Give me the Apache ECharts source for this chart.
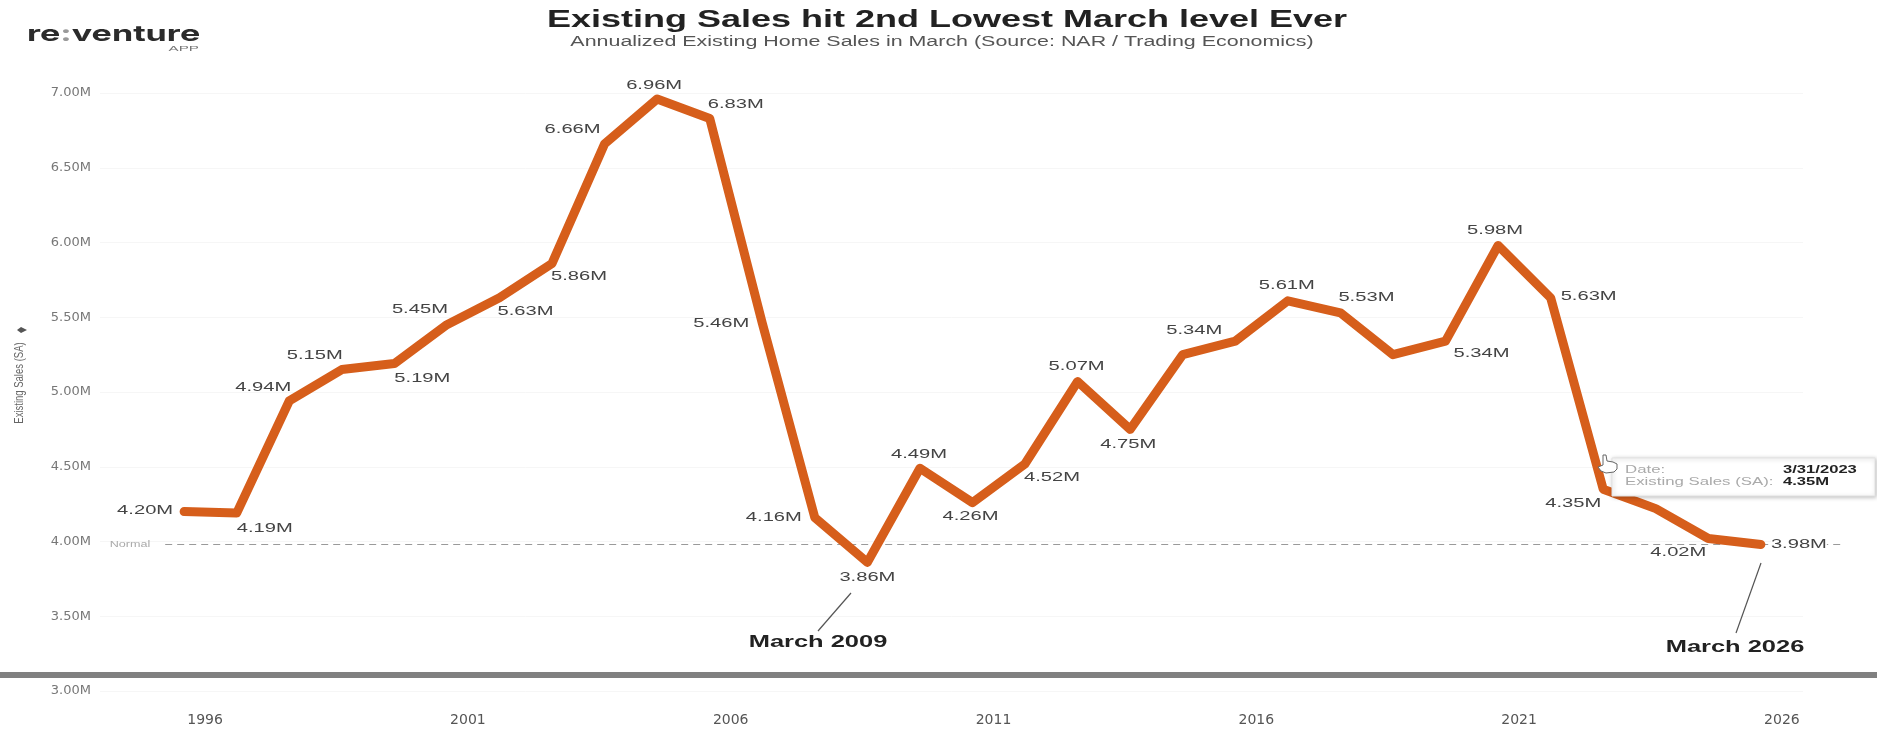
<!DOCTYPE html>
<html>
<head>
<meta charset="utf-8">
<title>Existing Home Sales in March</title>
<style>
  html, body { margin: 0; padding: 0; background: #fff; }
  #chart { width: 1877px; height: 729px; }
</style>
<script src="https://cdn.jsdelivr.net/npm/echarts@6/dist/echarts.min.js"></script>
</head>
<body>
<div id="chart"></div>
<script>
// Annualized existing home sales each March, in millions
const years = [1996, 1997, 1998, 1999, 2000, 2001, 2002, 2003, 2004, 2005, 2006,
  2007, 2008, 2009, 2010, 2011, 2012, 2013, 2014, 2015, 2016,
  2017, 2018, 2019, 2020, 2021, 2022, 2023, 2024, 2025, 2026];
const sales = [4.20, 4.19, 4.94, 5.15, 5.19, 5.45, 5.63, 5.86, 6.66, 6.96, 6.83,
  5.46, 4.16, 3.86, 4.49, 4.26, 4.52, 5.07, 4.75, 5.25, 5.34,
  5.61, 5.53, 5.25, 5.34, 5.98, 5.63, 4.35, 4.22, 4.02, 3.98];
const yearTicks = [1996, 2001, 2006, 2011, 2016, 2021, 2026];
const salesTicks = [3, 3.5, 4, 4.5, 5, 5.5, 6, 6.5, 7];
const normalLevel = 3.98;

// Years whose point carries no value label
const unlabeledYears = [2015, 2019];

// Label offset from its point, in pixels, per year
const labelOffsets = {
  1996: [-39, -1], 1997: [28, 15], 1998: [-26, -14], 1999: [-27, -14], 2000: [28, 15],
  2001: [-27, -15], 2002: [26, 14], 2003: [27, 13], 2004: [-32, -14], 2005: [-3, -14],
  2006: [26, -14], 2007: [-41, 0], 2008: [-41, 0], 2009: [0, 15], 2010: [-1, -14],
  2011: [-2, 14], 2012: [27, 14], 2013: [-1, -15], 2014: [-2, 15], 2016: [-41, -11],
  2017: [-1, -15], 2018: [26, -15], 2020: [36, 12], 2021: [-3, -15], 2022: [38, -1],
  2023: [-30, 14], 2024: [26, -16], 2025: [-30, 14], 2026: [38, 0]
};

const FONT = '"Liberation Sans", Arial, sans-serif';
const ORANGE = '#d65e1b';
const LAST_YEAR = years[years.length - 1];

// Text stretched sideways, as the whole graphic is drawn wide
function wideText(text, x, y, size, weight, fill, scaleX, align) {
  return {
    type: 'text', x, y, scaleX, z: 20,
    style: {
      text, fill, textAlign: align || 'center', textVerticalAlign: 'middle',
      font: `${weight} ${size}px ${FONT}`
    }
  };
}

function leader(x1, y1, x2, y2) {
  return { type: 'line', z: 20, shape: { x1, y1, x2, y2 }, style: { stroke: '#555', lineWidth: 1.2 } };
}

const chart = echarts.init(document.getElementById('chart'), null, { renderer: 'canvas' });

chart.setOption({
  animation: false,
  backgroundColor: '#fff',
  grid: { left: 79, right: 11, top: 93, bottom: 38 },
  xAxis: {
    type: 'value',
    min: 1994,
    max: 2028,
    interval: 1,
    splitLine: { show: false },
    axisLine: { show: false },
    axisTick: { show: false },
    axisLabel: {
      formatter: v => (yearTicks.includes(v) ? String(v) : ''),
      margin: 22,
      padding: [0, 0, 0, 42],
      color: '#555',
      fontFamily: 'DejaVu Sans',
      fontSize: 14
    }
  },
  yAxis: {
    type: 'value',
    min: 3,
    max: 7,
    interval: 0.5,
    splitLine: { show: false },
    axisLine: { show: false },
    axisTick: { show: false },
    axisLabel: {
      formatter: v => v.toFixed(2) + 'M',
      margin: -12,
      color: '#777',
      fontFamily: 'DejaVu Sans',
      fontSize: 13
    }
  },
  series: [
    {
      // Faint gridlines and the dashed reference level
      type: 'line',
      z: 1,
      silent: true,
      symbol: 'none',
      data: [],
      markLine: {
        silent: true,
        symbol: 'none',
        label: { show: false },
        animation: false,
        data: salesTicks.map(v => [
          { coord: [1994.4, v], lineStyle: { color: '#f6f6f6', width: 1, type: 'solid' } },
          { coord: [2026.8, v] }
        ]).concat([[
          { coord: [1995.64, normalLevel], lineStyle: { color: '#9a9a9a', width: 1, type: [7, 5] } },
          { coord: [2027.6, normalLevel] }
        ]])
      }
    },
    {
      type: 'line',
      z: 5,
      data: years.map((y, i) => [y, sales[i]]),
      symbol: 'none',
      lineStyle: { color: ORANGE, width: 9, cap: 'round', join: 'round' }
    },
    {
      // Value labels, stretched to the width of the rest of the lettering
      type: 'custom',
      z: 6,
      silent: true,
      data: years.map((y, i) => [y, sales[i]]),
      renderItem(params, api) {
        const year = api.value(0);
        if (unlabeledYears.includes(year)) return null;
        const p = api.coord([year, api.value(1)]);
        const off = labelOffsets[year] || [0, -14];
        const style = {
          text: api.value(1).toFixed(2) + 'M',
          fill: '#444',
          textAlign: 'center',
          textVerticalAlign: 'middle',
          font: `13px ${FONT}`
        };
        // The closing label sits on the dashed level and masks it
        if (year === LAST_YEAR) style.backgroundColor = '#fff';
        return { type: 'text', x: p[0] + off[0], y: p[1] + off[1], scaleX: 1.55, style };
      }
    }
  ],
  graphic: [
    // Brand mark
    {
      type: 'text', x: 27, y: 34, scaleX: 1.55, z: 20,
      style: {
        text: '{a|re}{b|:}{a|venture}',
        textVerticalAlign: 'middle',
        rich: {
          a: { font: '700 22px Inter', fill: '#2b2b2b' },
          b: { font: '700 22px Inter', fill: '#9a9a9a' }
        }
      }
    },
    wideText('APP', 199, 49, 8, 'normal', '#777', 1.9, 'right'),

    // Headings
    wideText('Existing Sales hit 2nd Lowest March level Ever', 947, 21, 23, 'bold', '#222', 1.565),
    wideText('Annualized Existing Home Sales in March (Source: NAR / Trading Economics)', 942, 42, 14, 'normal', '#555', 1.53),

    // Axis title, reading upwards, with its small sort glyph
    {
      type: 'text', x: 19, y: 383, rotation: Math.PI / 2, scaleY: 1.4, z: 20,
      style: {
        text: 'Existing Sales (SA)', fill: '#666', textAlign: 'center',
        textVerticalAlign: 'middle', font: `9.5px ${FONT}`
      }
    },
    { type: 'polygon', z: 20, shape: { points: [[17, 330], [21, 327], [27, 330], [21, 333]] }, style: { fill: '#555' } },

    // Reference level caption
    wideText('Normal', 130, 545, 9, 'normal', '#aaa', 1.4),

    // Callouts for the two low points
    leader(851, 593, 818, 631),
    wideText('March 2009', 818, 643, 16, 'bold', '#222', 1.59),
    leader(1761, 563, 1736, 633),
    wideText('March 2026', 1735, 648, 16, 'bold', '#222', 1.59),

    // Divider band
    { type: 'rect', z: 30, shape: { x: 0, y: 672, width: 1877, height: 6 }, style: { fill: '#808080' } },

    // Hover card on the 2023 point
    {
      type: 'rect', z: 40,
      shape: { x: 1612, y: 458, width: 263, height: 38 },
      style: { fill: '#fff', stroke: '#e2e2e2', lineWidth: 1, shadowBlur: 4, shadowColor: 'rgba(0,0,0,0.25)', shadowOffsetX: 1, shadowOffsetY: 1 }
    },
    Object.assign(wideText('Date:', 1625, 470, 10, 'normal', '#aaa', 1.68, 'left'), { z: 41 }),
    Object.assign(wideText('Existing Sales (SA):', 1625, 482, 10, 'normal', '#aaa', 1.68, 'left'), { z: 41 }),
    Object.assign(wideText('3/31/2023', 1783, 470, 10, 'bold', '#222', 1.66, 'left'), { z: 41 }),
    Object.assign(wideText('4.35M', 1783, 482, 10, 'bold', '#222', 1.66, 'left'), { z: 41 }),

    // Hand pointer over the point
    {
      type: 'polygon', z: 42,
      shape: { points: [[1603, 455], [1606, 455], [1607, 461], [1613, 462], [1617, 464], [1617, 469], [1614, 472], [1606, 473], [1601, 471], [1598, 467], [1603, 465]] },
      style: { fill: '#fff', stroke: '#666', lineWidth: 1 }
    }
  ]
});
</script>
</body>
</html>
